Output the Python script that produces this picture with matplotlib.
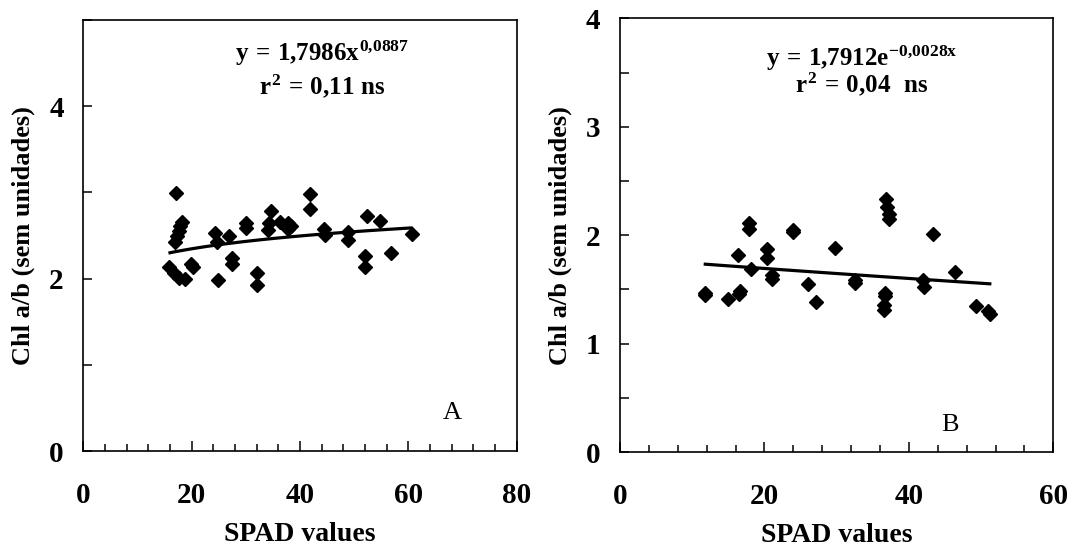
import numpy as np
import matplotlib
matplotlib.use("Agg")
import matplotlib.pyplot as plt
from matplotlib.ticker import MultipleLocator

plt.rcParams['font.family'] = ['Liberation Serif', 'DejaVu Serif']
plt.rcParams['font.weight'] = 'bold'
plt.rcParams['mathtext.fontset'] = 'custom'
plt.rcParams['mathtext.rm'] = 'Liberation Serif:bold'
plt.rcParams['mathtext.it'] = 'Liberation Serif:bold'
plt.rcParams['mathtext.bf'] = 'Liberation Serif:bold'

# painel A
a_x = [17.1, 18.2, 17.9, 17.6, 17.3, 17.0, 15.8, 16.8, 17.6, 18.7, 19.9, 20.2,
       24.3, 24.6, 24.8, 26.8, 27.4, 27.4, 30.0, 30.0, 32.1, 32.1, 34.0, 34.2,
       34.6, 36.3, 37.8, 38.3, 37.7, 41.8, 41.8, 44.4, 44.6, 48.9, 48.9, 52.3,
       54.7, 51.9, 51.9, 56.7, 60.6]
a_y = [2.99, 2.66, 2.61, 2.55, 2.49, 2.42, 2.13, 2.07, 2.01, 1.99, 2.17, 2.13,
       2.53, 2.43, 1.98, 2.50, 2.24, 2.17, 2.65, 2.59, 2.07, 1.93, 2.56, 2.65,
       2.79, 2.66, 2.64, 2.61, 2.57, 2.98, 2.81, 2.57, 2.51, 2.54, 2.45, 2.73,
       2.67, 2.26, 2.13, 2.30, 2.52]
a_coef = (1.7986, 0.0887)      # y = a * x^b
a_range = (16.0, 60.5)

# painel B
b_x = [11.8, 11.8, 14.9, 16.6, 16.5, 16.4, 17.8, 17.8, 18.2, 20.4, 20.4, 21.1,
       21.1, 24.0, 24.0, 26.0, 27.2, 29.8, 32.6, 32.6, 36.8, 36.9, 37.2, 37.3,
       36.7, 36.7, 36.5, 36.5, 42.0, 42.1, 43.3, 46.4, 49.3, 51.0, 51.2]
b_y = [1.45, 1.47, 1.41, 1.49, 1.46, 1.82, 2.11, 2.06, 1.69, 1.87, 1.79, 1.63,
       1.60, 2.05, 2.03, 1.55, 1.38, 1.88, 1.59, 1.56, 2.33, 2.26, 2.20, 2.15,
       1.47, 1.44, 1.36, 1.31, 1.59, 1.52, 2.01, 1.66, 1.35, 1.30, 1.27]
b_coef = (1.7912, -0.0028)     # y = a * e^(b x)
b_range = (11.8, 51.2)

fig = plt.figure(figsize=(10.72, 5.53), dpi=100)
axA = fig.add_axes([0.0777, 0.1844, 0.4044, 0.7794])
axB = fig.add_axes([0.5784, 0.1826, 0.4042, 0.7840])


def style_axes(ax, xmax, ymax, ymajor, yminor):
    ax.set_xlim(0, xmax)
    ax.set_ylim(0, ymax)
    ax.xaxis.set_major_locator(MultipleLocator(20))
    ax.xaxis.set_minor_locator(MultipleLocator(4))
    ax.yaxis.set_major_locator(MultipleLocator(ymajor))
    ax.yaxis.set_minor_locator(MultipleLocator(yminor))
    ax.tick_params(axis='x', which='major', direction='in', length=7, width=1.1,
                   pad=22, labelsize=21)
    ax.tick_params(axis='x', which='minor', direction='in', length=5, width=1.1)
    ax.tick_params(axis='y', which='both', direction='in', length=6.5, width=1.1,
                   pad=14, labelsize=21)
    for s in ax.spines.values():
        s.set_linewidth(1.2)
    ax.set_xlabel('SPAD values', fontsize=20, fontweight='bold', labelpad=10)
    ax.set_ylabel('Chl a/b (sem unidades)', fontsize=19, fontweight='bold')
    ax.yaxis.set_label_coords(-0.112, 0.5)


# A
style_axes(axA, 80, 5, 2, 1)
axA.set_yticks([0, 2, 4])
axA.set_yticklabels(['0', '2', '4'])
axA.plot(a_x, a_y, 'D', color='black', ms=7)
xa = np.linspace(a_range[0], a_range[1], 100)
axA.plot(xa, a_coef[0] * xa ** a_coef[1], color='black', lw=2.3)
axA.text(44.1, 4.61, r'$y\,=\,1{,}7986x^{0{,}0887}$', fontsize=18,
         ha='center', va='center')
axA.text(44.1, 4.23, r'$r^2\,=\,0{,}11\ ns$', fontsize=18, ha='center', va='center')
axA.text(68, 0.44, 'A', fontsize=19, fontweight='normal', ha='center', va='center')

# B
style_axes(axB, 60, 4, 1, 0.5)
axB.plot(b_x, b_y, 'D', color='black', ms=7)
xb = np.linspace(b_range[0], b_range[1], 100)
axB.plot(xb, b_coef[0] * np.exp(b_coef[1] * xb), color='black', lw=2.3)
axB.text(33.5, 3.63, r'$y\,=\,1{,}7912e^{-0{,}0028x}$', fontsize=18,
         ha='center', va='center')
axB.text(33.5, 3.39, r'$r^2\,=\,0{,}04\ \ ns$', fontsize=18, ha='center', va='center')
axB.text(45.7, 0.25, 'B', fontsize=19, fontweight='normal', ha='center', va='center')

fig.savefig('out.png', dpi=100)
